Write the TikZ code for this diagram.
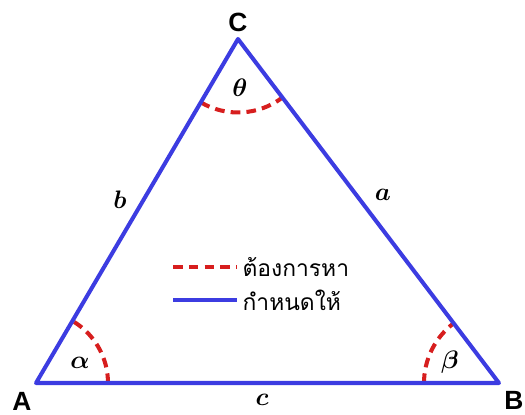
\documentclass[tikz,border=0pt]{standalone}
\usepackage{fontspec}
\usepackage{bm}
\setmainfont{Liberation Sans}
\newfontfamily\thaifont[Script=Thai]{Loma}
\definecolor{sideblue}{RGB}{60,60,225}
\definecolor{anglered}{RGB}{215,30,30}
\tikzset{
  side/.style={draw=sideblue, line width=2.3pt},
  unknown/.style={draw=anglered, line width=2.3pt, dash pattern=on 5.5pt off 3.5pt},
  vlabel/.style={font=\fontsize{15}{17}\selectfont\bfseries, inner sep=1pt},
  glabel/.style={font=\fontsize{15}{17}\selectfont},
  legtext/.style={font=\fontsize{13}{15}\selectfont\thaifont, anchor=west, inner sep=1pt}
}
\begin{document}
\begin{tikzpicture}[x=0.02cm, y=0.02cm, line join=round]
	\useasboundingbox (0,0) rectangle (525,414);
	\path
	(36,31) coordinate (A)
	(499,31) coordinate (B)
	(238,375) coordinate (C)
	(173,147) coordinate (L1)
	(237,147) coordinate (L2)
	(173,114) coordinate (L3)
	(237,114) coordinate (L4)
	;
	% angle arcs
	\draw[unknown] (A) ++(0:1.44cm) arc (0:59.6:1.44cm);
	\draw[unknown] (B) ++(180:1.5cm) arc (180:127.2:1.5cm);
	\draw[unknown] (C) ++(239.6:1.47cm) arc (239.6:307.2:1.47cm);
	% sides
	\draw[side] (A)--(B)--(C)--cycle;
	% vertices
	\foreach \v/\x/\y in {A/22/13,B/514/14,C/238/392}
	\node[vlabel] (n\v) at (\x,\y) {\v};
	% angles and sides
	\foreach \n/\t/\x/\y in {al/\alpha/80/51,be/\beta/450/52,th/\theta/240/326,sb/b/120/214,sa/a/383/219,sc/c/262/14}
	\node[glabel] (\n) at (\x,\y) {$\bm{\t}$};
	% legend
	\draw[unknown] (L1)--(L2);
	\draw[side] (L3)--(L4);
	\node[legtext] (want) at ([xshift=2]L2) {ต้องการหา};
	\node[legtext] (given) at ([xshift=2]L4) {กำหนดให้};
\end{tikzpicture}
\end{document}
